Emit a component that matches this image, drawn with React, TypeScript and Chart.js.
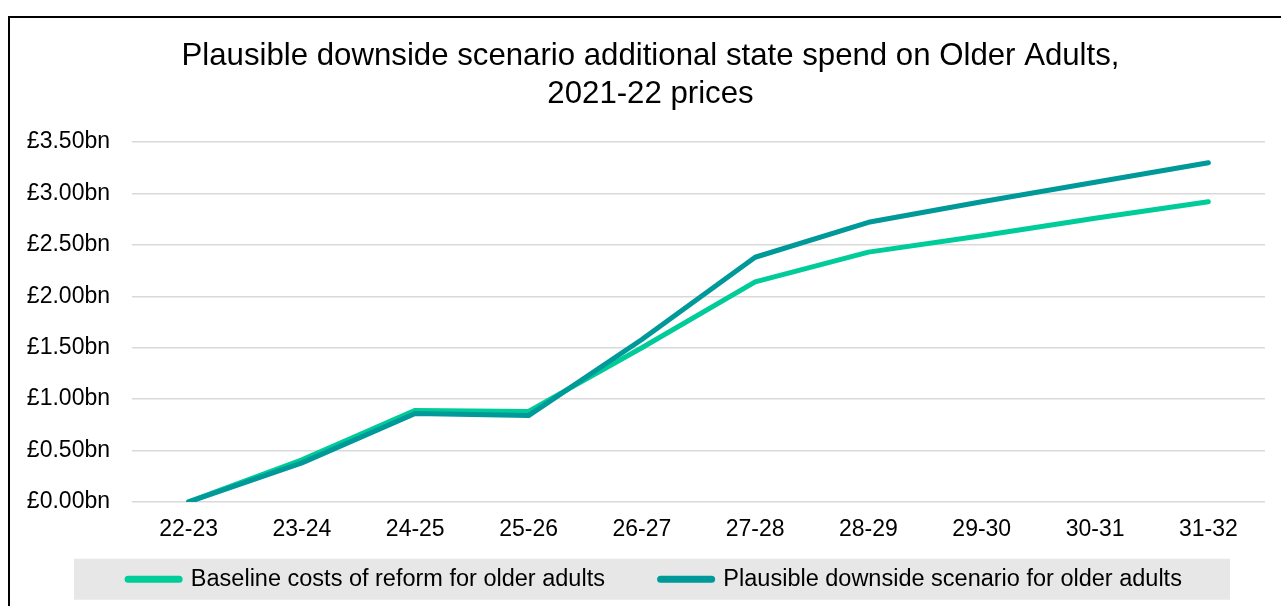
import React, { useEffect, useRef } from "react";
import { Chart, registerables } from "chart.js";

Chart.register(...registerables);

const categories = ["22-23", "23-24", "24-25", "25-26", "26-27", "27-28", "28-29", "29-30", "30-31", "31-32"];
const baselineValues = [0, 0.41, 0.89, 0.88, 1.5, 2.14, 2.43, 2.59, 2.76, 2.92];
const downsideValues = [0, 0.38, 0.86, 0.84, 1.58, 2.38, 2.72, 2.92, 3.11, 3.3];
const seriesNames = ["Baseline costs of reform for older adults", "Plausible downside scenario for older adults"];
const seriesColors = ["#00CC99", "#009999"];
const titleLines = ["Plausible downside scenario additional state spend on Older Adults,", "2021-22 prices"];

const FONT = "'Liberation Sans', Arial, sans-serif";
const GAP = "\u00a0\u00a0\u00a0\u00a0\u00a0\u00a0\u00a0";

const legendBg = {
  id: "legendBg",
  beforeDraw(chart: any) {
    const lg = chart.legend;
    const ca = chart.chartArea;
    if (chart.titleBlock) {
      chart.titleBlock.left = ca.left - 104;
      chart.titleBlock.right = ca.right + 8;
    }
    if (!lg || !lg.legendHitBoxes || !lg.legendHitBoxes.length) return;
    const boxLeft = ca.left - 58;
    const boxRight = ca.right - 35;
    // centre the legend items inside the grey band
    lg.left = ca.left - 52;
    lg.right = boxRight;
    const hb = lg.legendHitBoxes[0];
    const ctx = chart.ctx;
    const h = 41;
    const cy = hb.top + hb.height / 2;
    ctx.save();
    ctx.fillStyle = "#e7e7e7";
    ctx.fillRect(boxLeft, cy - h / 2, boxRight - boxLeft, h);
    ctx.restore();
  },
};

export default function App() {
  const ref = useRef<HTMLCanvasElement | null>(null);
  useEffect(() => {
    document.body.style.overflow = "hidden";
    const chart = new Chart(ref.current!, {
      type: "line",
      data: {
        labels: categories,
        datasets: [
          {
            label: seriesNames[0],
            data: baselineValues,
            borderColor: seriesColors[0],
            backgroundColor: seriesColors[0],
            borderWidth: 5,
            pointRadius: 0,
            tension: 0,
            borderCapStyle: "round",
            borderJoinStyle: "round",
            order: 2,
          },
          {
            label: seriesNames[1],
            data: downsideValues,
            borderColor: seriesColors[1],
            backgroundColor: seriesColors[1],
            borderWidth: 5,
            pointRadius: 0,
            tension: 0,
            borderCapStyle: "round",
            borderJoinStyle: "round",
            order: 1,
          },
        ],
      },
      options: {
        animation: false,
        responsive: false,
        maintainAspectRatio: false,
        layout: { padding: { left: 16, right: 16, top: 0, bottom: 5 } },
        plugins: {
          title: {
            display: true,
            text: titleLines,
            color: "#000",
            font: { family: FONT, size: 31.2, weight: "normal", lineHeight: 1.22 },
            padding: { top: 19, bottom: 29 },
          },
          legend: {
            position: "bottom",
            labels: {
              usePointStyle: true,
              pointStyle: "line",
              pointStyleWidth: 51,
              boxHeight: 6,
              padding: 10,
              color: "#000",
              font: { family: FONT, size: 23.5 },
              generateLabels: (chart: any) =>
                chart.data.datasets.map((ds: any, i: number) => ({
                  text: i === 0 ? ds.label + GAP : ds.label,
                  fillStyle: ds.borderColor,
                  strokeStyle: ds.borderColor,
                  lineWidth: 7,
                  lineCap: "round",
                  pointStyle: "line",
                  datasetIndex: i,
                  hidden: false,
                  fontColor: "#000",
                })),
            },
          },
          tooltip: { enabled: false },
        },
        scales: {
          x: {
            offset: true,
            grid: { display: false, drawTicks: false, offset: true },
            border: { display: false },
            ticks: { color: "#000", font: { family: FONT, size: 23 }, padding: 14, maxRotation: 0 },
          },
          y: {
            min: 0,
            max: 3.5,
            afterFit: (scale: any) => {
              scale.width = 106;
            },
            grid: { color: "#d9d9d9", lineWidth: 1.5, drawTicks: false },
            border: { display: false },
            ticks: {
              stepSize: 0.5,
              color: "#000",
              font: { family: FONT, size: 23 },
              padding: 22,
              callback: (v: any) => "£" + Number(v).toFixed(2) + "bn",
            },
          },
        },
      },
      plugins: [legendBg],
    });
    return () => chart.destroy();
  }, []);

  return (
    <div
      style={{
        position: "absolute",
        left: 8,
        top: 16,
        width: 1273,
        height: 590,
        borderTop: "2px solid #000",
        borderLeft: "2px solid #000",
        boxSizing: "border-box",
        background: "#fff",
      }}
    >
      <canvas ref={ref} width={1271} height={588} style={{ display: "block" }} />
    </div>
  );
}
